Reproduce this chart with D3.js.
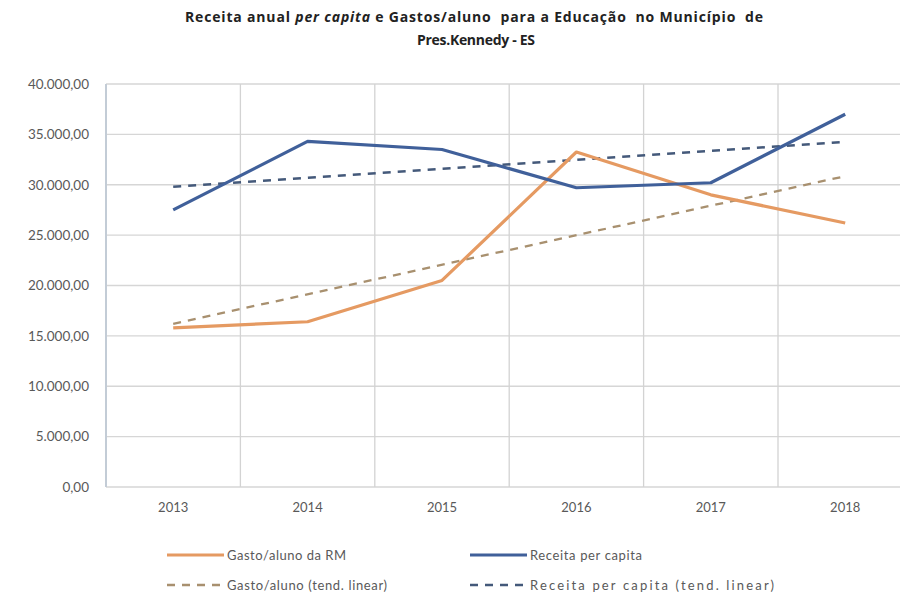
<!DOCTYPE html>
<html><head><meta charset="utf-8">
<script src="https://cdn.jsdelivr.net/npm/d3@7"></script>
<style>body{margin:0;background:#fff;} text{font-family:Lato, "Open Sans", sans-serif;}</style>
</head><body>
<svg id="c" width="900" height="599"></svg>
<script>
const categories = ["2013","2014","2015","2016","2017","2018"];
const gastoAluno = [15800, 16400, 20500, 33250, 29000, 26200];
const receitaPerCapita = [27500, 34300, 33500, 29700, 30200, 37000];
// trend lines (tend. linear), values read at 2013 and 2018
const trendCategories = ["2013","2018"];
const gastoTrend = [16200, 30850];
const receitaTrend = [29800, 34250];
const yTicks = [0,5000,10000,15000,20000,25000,30000,35000,40000];
const legendLabels = ["Gasto/aluno da RM","Receita per capita","Gasto/aluno (tend. linear)","Receita per capita (tend. linear)"];

(function(){
const svg = d3.select("#c");
const pL = 106, pT = 84, pB = 487, pR = 912.4;
const x = d3.scaleBand().domain(categories).range([pL, pR]).paddingInner(0).paddingOuter(0);
const cx = d => x(d) + x.bandwidth()/2;
const y = d3.scaleLinear().domain([0,40000]).range([pB, pT]);
const fmt = v => d3.format(",.2f")(v).replace(/,/g,"#").replace(/\./g,",").replace(/#/g,".");

svg.append("g").selectAll("line").data(yTicks).join("line")
  .attr("x1", pL).attr("x2", 900).attr("y1", d=>y(d)).attr("y2", d=>y(d))
  .attr("stroke", "#d6d6d6").attr("stroke-width", 1.3);
svg.append("g").selectAll("line").data(categories.slice(1)).join("line")
  .attr("x1", d=>x(d)).attr("x2", d=>x(d)).attr("y1", pT).attr("y2", pB)
  .attr("stroke", "#d3d3d3").attr("stroke-width", 1.3);
svg.append("line").attr("x1", pL).attr("x2", pL).attr("y1", pT).attr("y2", pB)
  .attr("stroke", "#c3ccd6").attr("stroke-width", 2);

const yAxis = d3.axisLeft(y).tickValues(yTicks).tickFormat(fmt).tickSize(0).tickPadding(17);
const gy = svg.append("g").attr("transform", `translate(${pL},0)`).call(yAxis);
gy.select(".domain").remove();
gy.selectAll("text").attr("fill", "#595959").style("font-size", "13.5px").style("font-family","Lato, sans-serif");

const xAxis = d3.axisBottom(x).tickSize(0).tickPadding(16);
const gx = svg.append("g").attr("transform", `translate(0,${pB})`).call(xAxis);
gx.select(".domain").remove();
gx.selectAll("text").attr("fill", "#595959").style("font-size", "13px").style("font-family","Lato, sans-serif");

const line = d3.line().x(d=>cx(d[0])).y(d=>y(d[1]));
const orange = "#e59a62", blue = "#40609a", orangeTrend = "#a8906f", blueTrend = "#44597a";

svg.append("path").datum(trendCategories.map((c,i)=>[c, gastoTrend[i]]))
  .attr("d", line).attr("fill","none").attr("stroke", orangeTrend).attr("stroke-width", 2.3).attr("stroke-dasharray","8,7");
svg.append("path").datum(trendCategories.map((c,i)=>[c, receitaTrend[i]]))
  .attr("d", line).attr("fill","none").attr("stroke", blueTrend).attr("stroke-width", 2.5).attr("stroke-dasharray","8,7");
svg.append("path").datum(categories.map((c,i)=>[c, gastoAluno[i]]))
  .attr("d", line).attr("fill","none").attr("stroke", orange).attr("stroke-width", 3.2).attr("stroke-linejoin","round");
svg.append("path").datum(categories.map((c,i)=>[c, receitaPerCapita[i]]))
  .attr("d", line).attr("fill","none").attr("stroke", blue).attr("stroke-width", 3.2).attr("stroke-linejoin","round");

const t = svg.append("text").attr("x", 474).attr("y", 22).attr("text-anchor","middle")
  .attr("textLength", 578).attr("lengthAdjust","spacing")
  .attr("fill","#222").style("font-family","'Open Sans', sans-serif").style("font-size","14px").style("font-weight","bold").style("white-space","pre");
t.append("tspan").text("Receita anual ");
t.append("tspan").style("font-style","italic").text("per capita");
t.append("tspan").text(" e Gastos/aluno  para a Educação  no Município  de");
svg.append("text").attr("x", 476).attr("y", 45).attr("text-anchor","middle")
  .attr("textLength", 118).attr("lengthAdjust","spacing")
  .attr("fill","#222").style("font-family","'Open Sans', sans-serif").style("font-size","14px").style("font-weight","bold").text("Pres.Kennedy - ES");

const legendItems = [
  {label: legendLabels[0], color: orange, dash: null, x: 167, y: 555, w: 3, len: 119},
  {label: legendLabels[1], color: blue, dash: null, x: 470, y: 555, w: 3, len: 112},
  {label: legendLabels[2], color: orangeTrend, dash: "8,7", x: 167, y: 585, w: 2.3, len: 160},
  {label: legendLabels[3], color: blueTrend, dash: "8,7", x: 470, y: 585, w: 2.5, len: 244}
];
const lg = svg.append("g").selectAll("g").data(legendItems).join("g");
lg.append("line").attr("x1", d=>d.x).attr("x2", d=>d.x+57).attr("y1", d=>d.y).attr("y2", d=>d.y)
  .attr("stroke", d=>d.color).attr("stroke-width", d=>d.w).attr("stroke-dasharray", d=>d.dash);
lg.append("text").attr("x", d=>d.x+60).attr("y", d=>d.y).attr("dy","0.35em")
  .attr("textLength", d=>d.len).attr("lengthAdjust","spacing")
  .attr("fill","#595959").style("font-size","13px").text(d=>d.label);
})();
</script>
</body></html>
